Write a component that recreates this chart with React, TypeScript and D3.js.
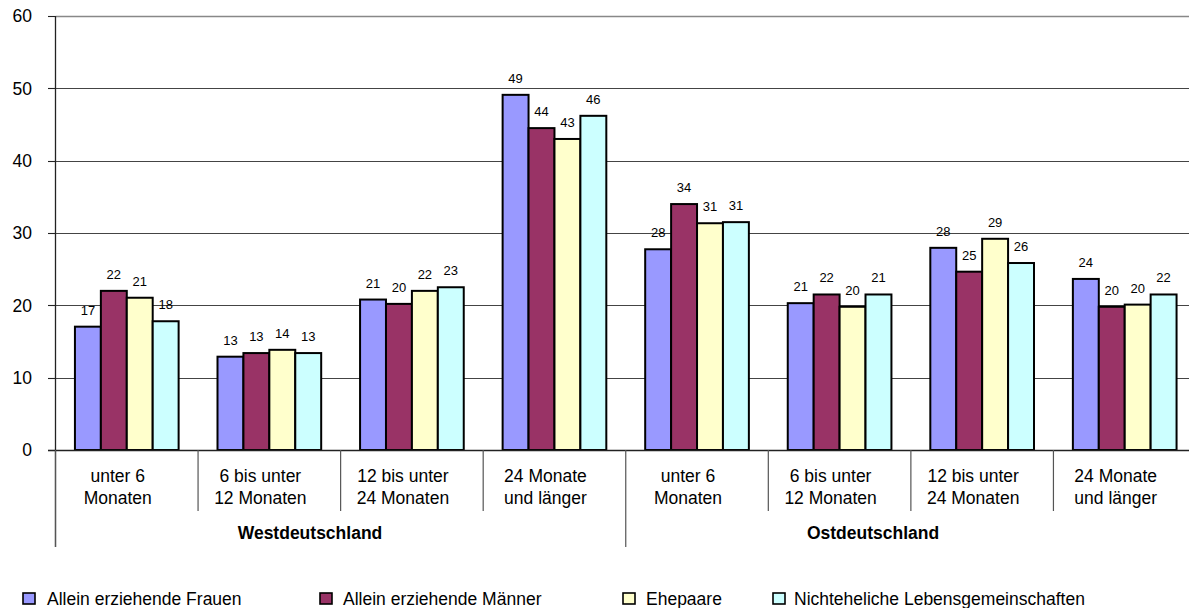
import React from "react";
import * as d3 from "d3";

const categories = [
  ["unter 6", "Monaten"],
  ["6 bis unter", "12 Monaten"],
  ["12 bis unter", "24 Monaten"],
  ["24 Monate", "und länger"],
  ["unter 6", "Monaten"],
  ["6 bis unter", "12 Monaten"],
  ["12 bis unter", "24 Monaten"],
  ["24 Monate", "und länger"],
];
const regions = ["Westdeutschland", "Ostdeutschland"];
const seriesNames = [
  "Allein erziehende Frauen",
  "Allein erziehende Männer",
  "Ehepaare",
  "Nichteheliche Lebensgemeinschaften",
];
const frauen = [17.05, 12.9, 20.8, 49.1, 27.75, 20.3, 27.95, 23.65];
const maenner = [22.0, 13.4, 20.2, 44.5, 34.0, 21.5, 24.65, 19.8];
const ehepaare = [21.05, 13.85, 22.0, 43.0, 31.35, 19.8, 29.2, 20.1];
const nichtehelich = [17.8, 13.4, 22.5, 46.2, 31.5, 21.5, 25.85, 21.5];
const labels = [
  [17, 13, 21, 49, 28, 21, 28, 24],
  [22, 13, 20, 44, 34, 22, 25, 20],
  [21, 14, 22, 43, 31, 20, 29, 20],
  [18, 13, 23, 46, 31, 21, 26, 22],
];
const yTicks = [0, 10, 20, 30, 40, 50, 60];
const colors = ["#9999FF", "#993366", "#FFFFCC", "#CCFFFF"];

export default function App() {
  const W = 1189;
  const H = 608;
  const left = 55.5;
  const right = 1196;
  const top = 16;
  const bottom = 450;
  const series = [frauen, maenner, ehepaare, nichtehelich];
  const font = "'Liberation Sans', Arial, sans-serif";

  const y = d3.scaleLinear().domain([0, 60]).range([bottom, top]);
  const x0 = d3
    .scaleBand<number>()
    .domain(d3.range(categories.length))
    .range([left, right])
    .paddingInner(0)
    .paddingOuter(0);
  const x1 = d3
    .scaleBand<number>()
    .domain(d3.range(series.length))
    .range([0, x0.bandwidth()])
    .paddingInner(0)
    .paddingOuter(0.75);

  const boundaries = d3.range(categories.length + 1).map((i) =>
    i < categories.length ? (x0(i) as number) : right
  );
  const regionCenters = [310, 873];
  const legendPos = [
    { sq: 23, tx: 47 },
    { sq: 320, tx: 343 },
    { sq: 623, tx: 646 },
    { sq: 773, tx: 794 },
  ];

  return (
    <div style={{ position: "absolute", left: 0, top: 0 }}>
      <svg width={W} height={H} style={{ display: "block", background: "#fff" }}>
        {/* gridlines */}
        {yTicks
          .filter((t) => t > 0)
          .map((t) => (
            <line
              key={"g" + t}
              x1={left}
              x2={right}
              y1={Math.round(y(t)) + 0.5}
              y2={Math.round(y(t)) + 0.5}
              stroke={t === 60 ? "#888" : "#444"}
              strokeWidth={t === 60 ? 1.6 : 1.1}
            />
          ))}
        {/* y axis */}
        <line x1={left} x2={left} y1={top} y2={547} stroke="#222" strokeWidth={1.3} />
        {yTicks.map((t) => (
          <g key={"t" + t}>
            <line x1={48} x2={left} y1={Math.round(y(t)) + 0.5} y2={Math.round(y(t)) + 0.5} stroke="#222" strokeWidth={1.1} />
            <text
              x={32}
              y={y(t)}
              dy="0.36em"
              textAnchor="end"
              fontFamily={font}
              fontSize={17.5}
              fill="#000"
            >
              {t}
            </text>
          </g>
        ))}
        {/* bars */}
        {series.map((vals, s) =>
          vals.map((v, i) => (
            <rect
              key={`b${s}-${i}`}
              x={(x0(i) as number) + (x1(s) as number)}
              y={y(v)}
              width={x1.bandwidth()}
              height={bottom - y(v)}
              fill={colors[s]}
              stroke="#000"
              strokeWidth={2}
            />
          ))
        )}
        {/* data labels */}
        {series.map((vals, s) =>
          vals.map((v, i) => (
            <text
              key={`l${s}-${i}`}
              x={(x0(i) as number) + (x1(s) as number) + x1.bandwidth() / 2}
              y={y(v) - 12}
              textAnchor="middle"
              fontFamily={font}
              fontSize={13}
              fill="#000"
            >
              {labels[s][i]}
            </text>
          ))
        )}
        {/* x axis */}
        <line x1={48} x2={right} y1={bottom + 0.5} y2={bottom + 0.5} stroke="#222" strokeWidth={1.3} />
        {boundaries.map((bx, i) => (
          <line
            key={"s" + i}
            x1={bx}
            x2={bx}
            y1={bottom}
            y2={i === 0 || i === 4 || i === 8 ? 547 : 511}
            stroke="#555"
            strokeWidth={1.2}
          />
        ))}
        {categories.map((c, i) => {
          const cx = (x0(i) as number) + x0.bandwidth() / 2 - 9;
          return (
            <text key={"c" + i} textAnchor="middle" fontFamily={font} fontSize={17.5} fill="#000">
              <tspan x={cx} y={482}>
                {c[0]}
              </tspan>
              <tspan x={cx} y={503.5}>
                {c[1]}
              </tspan>
            </text>
          );
        })}
        {regions.map((r, i) => (
          <text
            key={"r" + i}
            x={regionCenters[i]}
            y={538.5}
            textAnchor="middle"
            fontFamily={font}
            fontSize={17.5}
            fontWeight="bold"
            fill="#000"
          >
            {r}
          </text>
        ))}
        {/* legend */}
        {seriesNames.map((n, i) => (
          <g key={"lg" + i}>
            <rect
              x={legendPos[i].sq}
              y={593}
              width={12}
              height={11}
              fill={colors[i]}
              stroke="#000"
              strokeWidth={1.6}
            />
            <text x={legendPos[i].tx} y={604.5} fontFamily={font} fontSize={17.5} fill="#000">
              {n}
            </text>
          </g>
        ))}
      </svg>
    </div>
  );
}
